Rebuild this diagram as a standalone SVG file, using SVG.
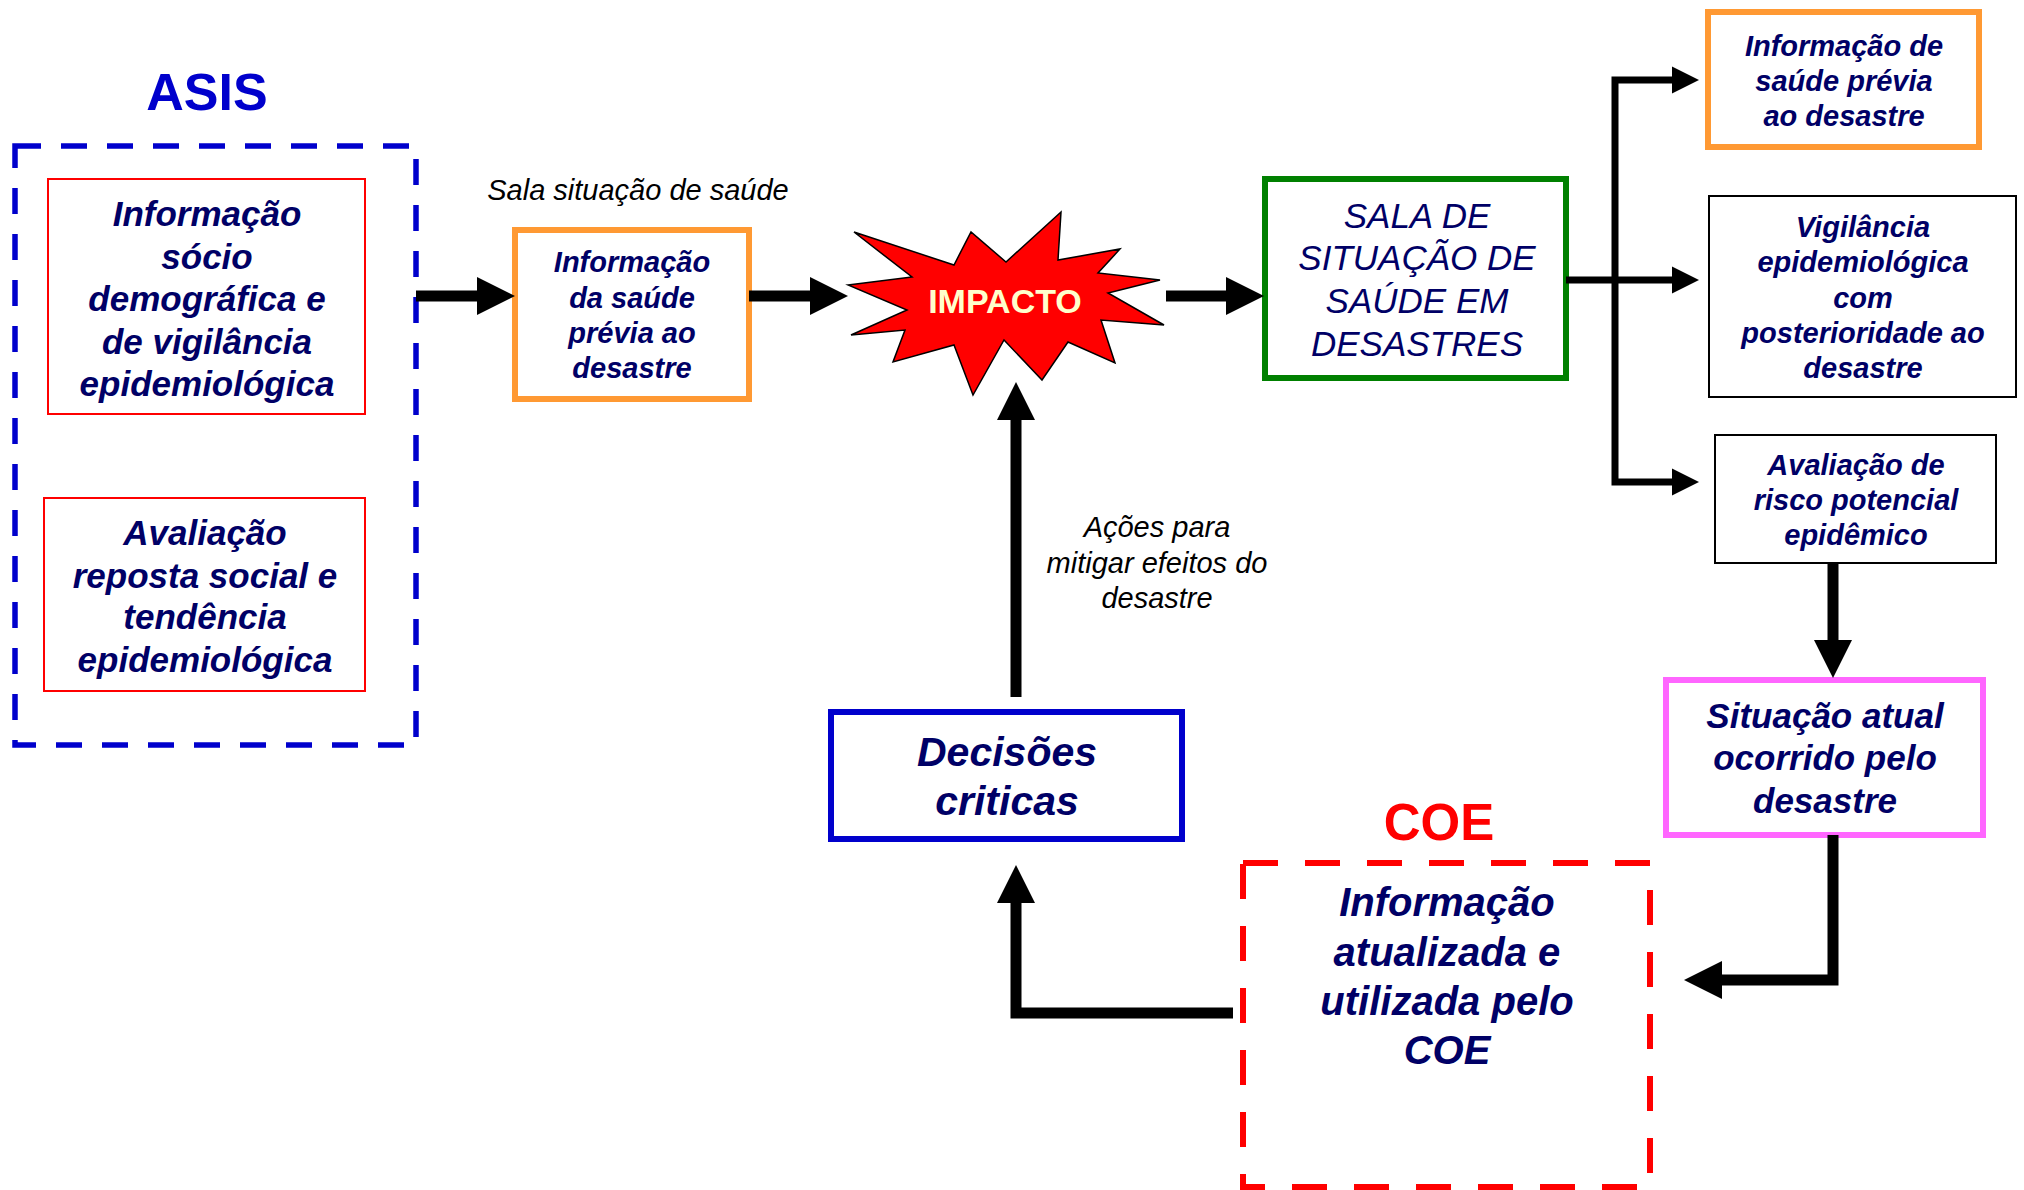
<svg xmlns="http://www.w3.org/2000/svg" width="2024" height="1190" viewBox="0 0 2024 1190">
<style>
.bi{font-family:"Liberation Sans",Arial,sans-serif;font-weight:bold;font-style:italic;fill:#000066;text-anchor:middle}
.it{font-family:"Liberation Sans",Arial,sans-serif;font-style:italic;fill:#000000;text-anchor:middle}
.sala{font-family:"Liberation Sans",Arial,sans-serif;font-style:italic;fill:#000066;text-anchor:middle}
.main{stroke:#000;stroke-width:11;fill:none;stroke-linejoin:miter}
.br{stroke:#000;stroke-width:7;fill:none;stroke-linejoin:miter}
</style>
<defs>
<marker id="ah" viewBox="0 -20 40 40" markerWidth="40" markerHeight="40" refX="0" refY="0" markerUnits="userSpaceOnUse" orient="auto-start-reverse">
<path d="M0,-19 L38,0 L0,19 z" fill="#000"/>
</marker>
<marker id="ahs" viewBox="0 -15 30 30" markerWidth="30" markerHeight="30" refX="0" refY="0" markerUnits="userSpaceOnUse" orient="auto-start-reverse">
<path d="M0,-13.5 L27,0 L0,13.5 z" fill="#000"/>
</marker>
</defs>
<rect width="2024" height="1190" fill="#fff"/>

<g id="asis">
<text x="207" y="110" font-family="Liberation Sans, Arial, sans-serif" font-weight="bold" font-size="52" fill="#0000CC" text-anchor="middle">ASIS</text>
<rect x="15" y="146" width="401" height="599" fill="none" stroke="#0000CC" stroke-width="5.5" stroke-dasharray="26 20"/>
</g>
<g id="asis-info">
<rect x="48" y="179" width="317" height="235" fill="#fff" stroke="#FF0000" stroke-width="2"/>
<text class="bi" font-size="35"><tspan x="207" y="226">Informação</tspan><tspan x="207" y="268.5">sócio</tspan><tspan x="207" y="311">demográfica e</tspan><tspan x="207" y="353.5">de vigilância</tspan><tspan x="207" y="396">epidemiológica</tspan></text>
</g>
<g id="asis-aval">
<rect x="44" y="498" width="321" height="193" fill="#fff" stroke="#FF0000" stroke-width="2"/>
<text class="bi" font-size="35"><tspan x="205" y="545">Avaliação</tspan><tspan x="205" y="588">reposta social e</tspan><tspan x="205" y="629">tendência</tspan><tspan x="205" y="672">epidemiológica</tspan></text>
</g>

<g id="sala-label">
<text class="it" font-size="29" x="638" y="200">Sala situação de saúde</text>
</g>
<g id="info-previa">
<rect x="515" y="230" width="234" height="169" fill="#fff" stroke="#FF9933" stroke-width="6"/>
<text class="bi" font-size="29"><tspan x="632" y="272">Informação</tspan><tspan x="632" y="308">da saúde</tspan><tspan x="632" y="343">prévia ao</tspan><tspan x="632" y="378">desastre</tspan></text>
</g>

<g id="impacto">
<polygon points="848,285 912,277 854,232 954,265 971,232 1006,262 1061,212 1058,260 1120,249 1098,273 1160,280 1108,293 1164,325 1101,320 1115,363 1068,342 1042,380 1004,340 973,395 954,345 893,362 905,330 851,335 907,310" fill="#FF0000" stroke="#000" stroke-width="1.5" stroke-linejoin="miter"/>
<text x="1005" y="313" font-family="Liberation Sans, Arial, sans-serif" font-weight="bold" font-size="34" fill="#FFFFCC" text-anchor="middle">IMPACTO</text>
</g>

<g id="sala-desastres">
<rect x="1265" y="179" width="301" height="199" fill="#fff" stroke="#008000" stroke-width="6"/>
<text class="sala" font-size="35"><tspan x="1417" y="228">SALA DE</tspan><tspan x="1417" y="270">SITUAÇÃO DE</tspan><tspan x="1417" y="313">SAÚDE EM</tspan><tspan x="1417" y="356">DESASTRES</tspan></text>
</g>

<g id="info-saude-previa">
<rect x="1708" y="12" width="271" height="135" fill="#fff" stroke="#FF9933" stroke-width="6"/>
<text class="bi" font-size="29"><tspan x="1844" y="56">Informação de</tspan><tspan x="1844" y="91">saúde prévia</tspan><tspan x="1844" y="126">ao desastre</tspan></text>
</g>
<g id="vigilancia">
<rect x="1709" y="196" width="307" height="201" fill="#fff" stroke="#000" stroke-width="2"/>
<text class="bi" font-size="29"><tspan x="1863" y="237">Vigilância</tspan><tspan x="1863" y="272">epidemiológica</tspan><tspan x="1863" y="308">com</tspan><tspan x="1863" y="343">posterioridade ao</tspan><tspan x="1863" y="378">desastre</tspan></text>
</g>
<g id="risco">
<rect x="1715" y="435" width="281" height="128" fill="#fff" stroke="#000" stroke-width="2"/>
<text class="bi" font-size="29"><tspan x="1856" y="475">Avaliação de</tspan><tspan x="1856" y="510">risco potencial</tspan><tspan x="1856" y="545">epidêmico</tspan></text>
</g>

<g id="situacao-atual">
<rect x="1666" y="680" width="317" height="155" fill="#fff" stroke="#FF66FF" stroke-width="6"/>
<text class="bi" font-size="35"><tspan x="1825" y="728">Situação atual</tspan><tspan x="1825" y="770">ocorrido pelo</tspan><tspan x="1825" y="813">desastre</tspan></text>
</g>

<g id="coe">
<text x="1439" y="840" font-family="Liberation Sans, Arial, sans-serif" font-weight="bold" font-size="51" fill="#FF0000" text-anchor="middle">COE</text>
<rect x="1243" y="863" width="407" height="324" fill="none" stroke="#FF0000" stroke-width="6" stroke-dasharray="35 27"/>
<text class="bi" font-size="40"><tspan x="1447" y="916">Informação</tspan><tspan x="1447" y="966">atualizada e</tspan><tspan x="1447" y="1015">utilizada pelo</tspan><tspan x="1447" y="1064">COE</tspan></text>
</g>

<g id="decisoes">
<rect x="831" y="712" width="351" height="127" fill="#fff" stroke="#0000CC" stroke-width="6"/>
<text class="bi" font-size="41"><tspan x="1007" y="766">Decisões</tspan><tspan x="1007" y="815">criticas</tspan></text>
</g>

<g id="acoes-label">
<text class="it" font-size="29"><tspan x="1157" y="537">Ações para</tspan><tspan x="1157" y="572.5">mitigar efeitos do</tspan><tspan x="1157" y="608">desastre</tspan></text>
</g>

<g id="connectors">
<path class="main" d="M416,296 H477" marker-end="url(#ah)"/>
<path class="main" d="M749,296 H810" marker-end="url(#ah)"/>
<path class="main" d="M1166,296 H1226" marker-end="url(#ah)"/>
<path class="br" d="M1672,80 H1615 V482 H1672" marker-start="url(#ahs)" marker-end="url(#ahs)"/>
<path class="br" d="M1566,280 H1672" marker-end="url(#ahs)"/>
<path class="main" d="M1833,563 V640" marker-end="url(#ah)"/>
<path class="main" d="M1833,835 V980 H1722" marker-end="url(#ah)"/>
<path class="main" d="M1233,1013 H1016 V903" marker-end="url(#ah)"/>
<path class="main" d="M1016,697 V420" marker-end="url(#ah)"/>
</g>
</svg>
